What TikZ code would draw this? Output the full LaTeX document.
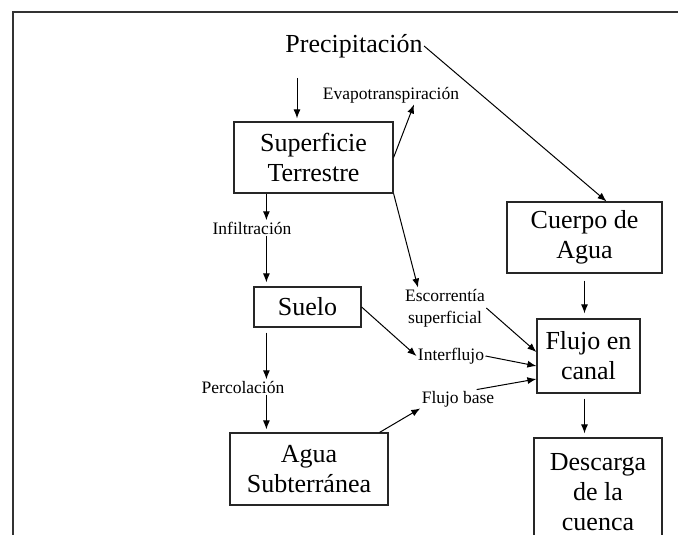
\documentclass[tikz,border=0pt]{standalone}
\usepackage{fontspec}
\setmainfont{Liberation Serif}
\usetikzlibrary{arrows.meta}
\newcommand{\bigtxt}{\fontsize{26}{30}\selectfont}
\newcommand{\smalltxt}{\fontsize{17.5}{22}\selectfont}
\begin{document}
\begin{tikzpicture}[x=1pt,y=-1pt,>={Latex[length=9pt,width=7pt]},line width=1pt]
        \tikzstyle{box}=[rectangle,draw=black!85,line width=1.2pt,align=center,font=\bigtxt,inner sep=0pt]
        \tikzstyle{flow}=[align=center,font=\smalltxt,inner sep=1pt]
        \useasboundingbox (0,0) rectangle (678,535);
        \clip (0,0) rectangle (678,535);
        \draw [line width=1.6pt,black!80] (13,12) rectangle (700,560); %frame

        \node [font=\bigtxt,inner sep=1pt] (prec) at (354,46) {Precipitación};
        \node [flow] (evap) at (391,95) {Evapotranspiración};
        \node [box,minimum width=159pt,minimum height=71pt] (sup) at (313.5,157.5) {Superficie\\Terrestre};
        \node [box,minimum width=155pt,minimum height=71pt] (cue) at (584.5,237.5) {Cuerpo de\\Agua};
        \node [flow] (infil) at (252,228) {Infiltración};
        \node [box,minimum width=107pt,minimum height=40pt] (suelo) at (307.5,307) {Suelo};
        \node [flow] (esc) at (445,308) {Escorrentía\\superficial};
        \node [box,minimum width=103pt,minimum height=74pt] (flujo) at (588.5,356) {Flujo en\\canal};
        \node [flow] (inter) at (451,356) {Interflujo};
        \node [flow] (perc) at (243,387) {Percolación};
        \node [box,minimum width=158pt,minimum height=72pt] (agua) at (309,469) {Agua\\Subterránea};
        \node [flow] (fbase) at (458,399) {Flujo base};
        \node [box,minimum width=128pt,minimum height=108pt] (desc) at (598,492) {Descarga\\de la\\cuenca}; %cut at the bottom

        \coordinate (p0) at (297,78);
        \draw [->,shorten >=3pt] (p0) -- (p0 |- sup.north);
        \draw [->] (sup.east) -- ([xshift=23pt]evap.south);
        \draw [->] (prec.east) -- ([xshift=22pt]cue.north);
        \draw [->] ([xshift=33pt]sup.south west) coordinate (a1) -- (a1 |- infil.north);
        \draw [->,shorten >=4pt] (a1 |- infil.south) -- (a1 |- suelo.north);
        \draw [->,shorten <=5pt] (a1 |- suelo.south) -- (a1 |- perc.north);
        \draw [->,shorten >=3pt] (a1 |- perc.south) -- (a1 |- agua.north);
        \draw [->] (sup.south east) -- ([xshift=-27pt]esc.north);
        \draw [->] (esc.east) -- ([yshift=4pt]flujo.west);
        \draw [->] (suelo.east) -- (inter.west);
        \draw [->] (inter.east) -- ([yshift=-10pt]flujo.west);
        \draw [->] ([xshift=-9pt]agua.north east) -- (fbase.south west);
        \draw [->] ([xshift=-19pt]fbase.north east) -- ([yshift=-23pt]flujo.west);
        \draw [->,shorten <=7pt,shorten >=5pt] (cue.south) -- (cue.south |- flujo.north);
        \draw [->,shorten <=5pt,shorten >=4pt] ([xshift=-4pt]flujo.south) -- ([xshift=-4pt]flujo.south |- desc.north);
    \end{tikzpicture}
\end{document}
